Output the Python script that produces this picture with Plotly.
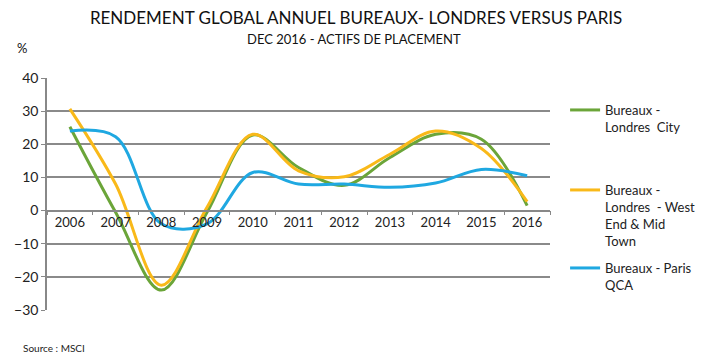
import plotly.graph_objects as go

years = ["2006", "2007", "2008", "2009", "2010", "2011", "2012", "2013", "2014", "2015", "2016"]
londres_city = [25.3, -0.5, -24.0, -0.5, 22.8, 13.0, 7.6, 16.0, 23.0, 21.5, 1.5]
londres_west_end = [30.7, 8.0, -22.5, 1.0, 23.0, 12.0, 10.2, 17.0, 24.0, 18.7, 2.7]
paris_qca = [24.0, 22.3, -4.0, -4.0, 11.5, 8.0, 8.0, 7.0, 8.3, 12.4, 10.5]

names = ["Bureaux -<br>Londres  City",
         "Bureaux -<br>Londres  - West<br>End & Mid<br>Town",
         "Bureaux - Paris<br>QCA"]
colors = ["#6BA539", "#F9B919", "#1FA8E1"]
series = [londres_city, londres_west_end, paris_qca]
legends = ["legend", "legend2", "legend3"]

fig = go.Figure()
for vals, name, col, lg in zip(series, names, colors, legends):
    fig.add_trace(go.Scatter(
        x=years, y=vals, name=name, mode="lines",
        line=dict(color=col, width=3, shape="spline", smoothing=1.0),
        legend=lg, hoverinfo="x+y+name"))

leg_common = dict(font=dict(family="Lato", size=13, color="#222"), bgcolor="rgba(0,0,0,0)",
                  valign="top", xanchor="left", yanchor="top", itemwidth=30)

PLOT_TOP, PLOT_BOT = 78, 310
PH = PLOT_BOT - PLOT_TOP


def py(px):
    return (PLOT_BOT - px) / PH


fig.update_layout(
    width=701, height=359,
    margin=dict(l=47, r=151, t=78, b=49, autoexpand=False),
    paper_bgcolor="white", plot_bgcolor="white",
    font=dict(family="Lato", color="#222"),
    title=dict(text="RENDEMENT GLOBAL ANNUEL BUREAUX- LONDRES VERSUS PARIS",
               x=0.508, xanchor="center", y=1 - 18 / 359, yanchor="middle",
               font=dict(family="Lato", size=17, color="#111")),
    legend=dict(x=1.03, y=py(95), **leg_common),
    legend2=dict(x=1.03, y=py(175), **leg_common),
    legend3=dict(x=1.03, y=py(253), **leg_common),
    xaxis=dict(type="category", range=[-0.5, 10.5], anchor="free", position=30 / 70,
               showline=True, linecolor="#888", linewidth=1.5,
               ticks="outside", tickson="boundaries", ticklen=4, tickcolor="#888",
               tickfont=dict(family="Lato", size=13, color="#222"),
               showgrid=False, zeroline=False),
    yaxis=dict(range=[-30, 40], dtick=10, tick0=0, showgrid=True, gridcolor="#8a8a8a",
               gridwidth=1.5, showline=True, linecolor="#888", linewidth=1.5,
               ticks="outside", ticklen=4, tickcolor="#888", zeroline=False,
               tickfont=dict(family="Lato", size=14, color="#222")),
    showlegend=True,
)

fig.add_annotation(text="DEC 2016 - ACTIFS DE PLACEMENT", xref="paper", yref="paper",
                   x=(354 - 47) / 503, y=py(39), xanchor="center", yanchor="middle",
                   showarrow=False, font=dict(family="Lato", size=13, color="#111"))
fig.add_annotation(text="%", xref="paper", yref="paper", x=(22 - 47) / 503, y=py(48),
                   xanchor="center", yanchor="middle", showarrow=False,
                   font=dict(family="Lato", size=13, color="#111"))
fig.add_annotation(text="Source : MSCI", xref="paper", yref="paper", x=(21 - 47) / 503,
                   y=py(348), xanchor="left", yanchor="middle", showarrow=False,
                   font=dict(family="Lato", size=10, color="#222"))

fig.write_html("out.html", config={"displayModeBar": False},
               post_script="document.body.style.margin='0';document.body.style.overflow='hidden';")
